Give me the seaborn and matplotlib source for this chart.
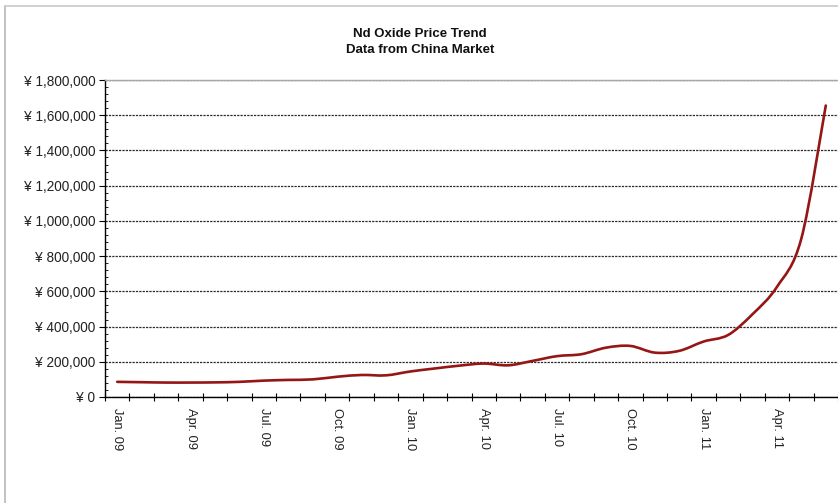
import numpy as np
import pandas as pd
import matplotlib
matplotlib.use('Agg')
import matplotlib.pyplot as plt
import matplotlib.ticker as mticker
from matplotlib.lines import Line2D
from matplotlib.path import Path
from matplotlib.patches import PathPatch
import seaborn as sns

# monthly Nd oxide price, Jan 09 .. Jun 11 (yuan / t)
months = ['Jan. 09', 'Feb. 09', 'Mar. 09', 'Apr. 09', 'May. 09', 'Jun. 09',
          'Jul. 09', 'Aug. 09', 'Sep. 09', 'Oct. 09', 'Nov. 09', 'Dec. 09',
          'Jan. 10', 'Feb. 10', 'Mar. 10', 'Apr. 10', 'May. 10', 'Jun. 10',
          'Jul. 10', 'Aug. 10', 'Sep. 10', 'Oct. 10', 'Nov. 10', 'Dec. 10',
          'Jan. 11', 'Feb. 11', 'Mar. 11', 'Apr. 11', 'May. 11', 'Jun. 11']
prices = [86000, 84000, 82000, 82000, 83000, 86000,
          93000, 97000, 100000, 115000, 125000, 123000,
          145000, 162000, 178000, 190000, 180000, 205000,
          232000, 243000, 280000, 290000, 252000, 262000,
          315000, 352000, 470000, 625000, 900000, 1655000]
label_every = 3

sns.set_theme(style='white')
plt.rcParams['font.family'] = ['Liberation Sans', 'DejaVu Sans']

df = pd.DataFrame({'month': months, 'price': prices})
df['pos'] = np.arange(len(df))

fig = plt.figure(figsize=(8.38, 5.03), dpi=100)
ax = fig.add_axes([105 / 838, 1 - 397 / 503, 1 - 105 / 838, (397 - 80) / 503])

line_color = '#961616'
sns.lineplot(data=df, x='pos', y='price', ax=ax, color=line_color, linewidth=1.9)

# the original uses a smoothed line: redraw the seaborn line as a bezier path
# through the same data points (Excel-style smoothing)
src = ax.lines[0]
xs, ys = np.asarray(src.get_xdata(), float), np.asarray(src.get_ydata(), float)
src.set_visible(False)
verts = [(xs[0], ys[0])]
codes = [Path.MOVETO]
n = len(xs)
for i in range(n - 1):
    x0, y0 = (xs[i - 1], ys[i - 1]) if i > 0 else (xs[i], ys[i])
    x3, y3 = (xs[i + 2], ys[i + 2]) if i + 2 < n else (xs[i + 1], ys[i + 1])
    c1 = (xs[i] + (xs[i + 1] - x0) / 6, ys[i] + (ys[i + 1] - y0) / 6)
    c2 = (xs[i + 1] - (x3 - xs[i]) / 6, ys[i + 1] - (y3 - ys[i]) / 6)
    verts += [c1, c2, (xs[i + 1], ys[i + 1])]
    codes += [Path.CURVE4] * 3
ax.add_patch(PathPatch(Path(verts, codes), facecolor='none', edgecolor=line_color,
                       linewidth=1.9, capstyle='round', joinstyle='round', zorder=3))

ax.set_xlim(-0.5, len(df) - 0.5)
ax.set_ylim(0, 1800000)

# y axis
ax.yaxis.set_major_locator(mticker.MultipleLocator(200000))
ax.yaxis.set_minor_locator(mticker.MultipleLocator(40000))
ax.yaxis.set_major_formatter(mticker.FuncFormatter(lambda v, p: '¥ {:,.0f}'.format(v)))
ax.tick_params(axis='y', which='major', direction='out', length=4, width=0.8,
               color='black', labelsize=9.8, labelcolor='#222222', pad=3, left=True)
ax.tick_params(axis='y', which='minor', direction='in', length=2.5, width=0.6,
               color='black', left=True)

# x axis: ticks at month boundaries, labels every 3 months
ax.set_xticks(df['pos'][::label_every])
ax.set_xticklabels(df['month'][::label_every], rotation=-90, va='top', ha='center')
ax.set_xticks(np.arange(len(df) + 1) - 0.5, minor=True)
ax.tick_params(axis='x', which='major', length=0, labelsize=9.3, labelcolor='#222222', pad=8)
ax.tick_params(axis='x', which='minor', direction='inout', length=6, width=0.8,
               color='black', bottom=True)

ax.yaxis.grid(True, which='major', linestyle=(0, (1.8, 0.9)), color='#2a2a2a', linewidth=0.9)
ax.xaxis.grid(False)
ax.set_axisbelow(True)

ax.set_xlabel('')
ax.set_ylabel('')
for side in ['left', 'bottom']:
    ax.spines[side].set_color('black')
    ax.spines[side].set_linewidth(1.0)
ax.spines['top'].set_color('#a8a8a8')
ax.spines['top'].set_linewidth(1.0)
ax.spines['right'].set_visible(False)

fig.text(420 / 838, 1 - 34 / 503, 'Nd Oxide Price Trend', ha='center', va='center',
         fontsize=9.5, fontweight='bold', color='#111111')
fig.text(420 / 838, 1 - 50 / 503, 'Data from China Market', ha='center', va='center',
         fontsize=9.5, fontweight='bold', color='#111111')

# outer chart frame (left and top edges visible)
fig.add_artist(Line2D([5 / 838, 5 / 838], [0, 1 - 6 / 503], color='#b8b8b8', linewidth=1.2))
fig.add_artist(Line2D([5 / 838, 1], [1 - 6 / 503, 1 - 6 / 503], color='#c8c8c8', linewidth=1.2))

fig.savefig('out.png', dpi=100)
